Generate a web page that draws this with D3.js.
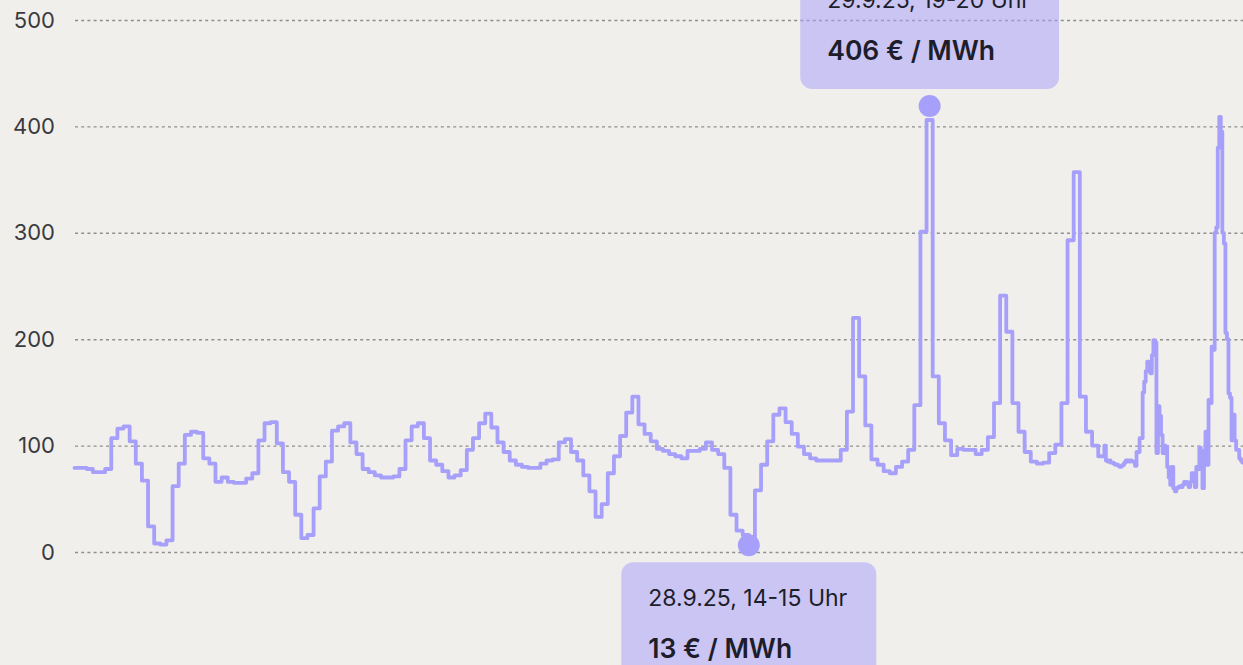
<!DOCTYPE html>
<html>
<head>
<meta charset="utf-8">
<script src="https://cdn.jsdelivr.net/npm/d3@7"></script>
<style>
  html, body { margin: 0; padding: 0; background: #f0efeb; overflow: hidden; }
  svg { display: block; font-family: Inter, "Noto Sans", sans-serif; }
</style>
</head>
<body>
<script>
// hourly prices (€/MWh), one array per day
const sep24 = [79, 79, 78, 75, 75, 78, 107, 116, 118, 104, 83, 67, 24, 8, 7, 11, 62, 83, 110, 113, 112, 88, 83, 66];
const sep25 = [70, 66, 65, 65, 69, 74, 105, 121, 122, 102, 75, 66, 35, 13, 16, 41, 71, 85, 114, 118, 121, 103, 92, 78];
const sep26 = [75, 72, 70, 70, 71, 78, 105, 118, 121, 107, 86, 82, 76, 70, 72, 77, 96, 107, 121, 130, 117, 103, 94, 86];
const sep27 = [82, 80, 79, 79, 83, 86, 87, 103, 106, 94, 86, 72, 57, 33, 45, 74, 90, 109, 131, 146, 120, 111, 104, 97];
const sep28 = [95, 92, 90, 88, 95, 95, 97, 103, 96, 92, 79, 35, 20, 16, 13, 58, 82, 104, 129, 135, 122, 111, 99, 92];
const sep29 = [88, 86, 86, 86, 86, 96, 132, 220, 165, 119, 87, 82, 76, 74, 80, 85, 96, 138, 301, 406, 165, 121, 105, 91];
const sep30 = [97, 96, 96, 92, 96, 108, 140, 241, 207, 140, 113, 94, 85, 83, 84, 93, 101, 140, 293, 357, 146, 113, 100, 90];
// from 1 Oct the day-ahead market trades quarter hours
const oct1 = [100, 86, 85, 86, 84, 84, 83, 82, 82, 81, 80, 81, 82, 84, 86, 86,
              85, 86, 85, 85, 81, 94, 94, 107, 107, 150, 160, 170, 179, 176, 168, 185,
              199, 197, 93, 137, 128, 110, 93, 100, 99, 80, 70, 63, 80, 60, 57, 60,
              61, 62, 61, 63, 66, 66, 64, 61, 66, 74, 72, 61, 80, 78, 98, 95,
              60, 95, 113, 82, 143, 140, 193, 190, 300, 305, 380, 409, 395, 300, 290, 206,
              200, 149, 145, 105, 129, 105, 96, 96, 88, 86, 84, 84];

const yTicks = [0, 100, 200, 300, 400, 500];

const maxNote = ["29.9.25, 19-20 Uhr", "406 € / MWh"];
const minNote = ["28.9.25, 14-15 Uhr", "13 € / MWh"];
const maxTime = new Date(Date.UTC(2025, 8, 29, 19));
const minTime = new Date(Date.UTC(2025, 8, 28, 14));

const W = 1243, H = 665;
const purple = "#a7a0fb";

const data = [];
[sep24, sep25, sep26, sep27, sep28, sep29, sep30].forEach((day, d) => {
  day.forEach((v, h) => data.push({ t: new Date(Date.UTC(2025, 8, 24 + d, h)), v: v }));
});
oct1.forEach((v, q) => data.push({ t: new Date(Date.UTC(2025, 9, 1, 0, 15 * q)), v: v }));
// close the last step
const last = data[data.length - 1];
data.push({ t: new Date(last.t.getTime() + 15 * 60000), v: last.v });

const svg = d3.select("body").append("svg")
  .attr("width", W)
  .attr("height", H);

const x = d3.scaleUtc()
  .domain([new Date(Date.UTC(2025, 8, 24)), new Date(Date.UTC(2025, 9, 2))])
  .range([74.5, 74.5 + 192 * 6.13]);

const y = d3.scaleLinear()
  .domain([0, 500])
  .range([552, 20]);

// grid + labels
const yAxis = svg.append("g")
  .attr("transform", "translate(75,0)")
  .call(d3.axisLeft(y).tickValues(yTicks).tickSize(-(W - 75)).tickPadding(20));
yAxis.select(".domain").remove();
yAxis.selectAll(".tick line")
  .attr("stroke", "#8f8f8f")
  .attr("stroke-width", 1.4)
  .attr("stroke-dasharray", "3 3.2");
yAxis.selectAll(".tick text")
  .attr("fill", "#3a3a3e")
  .attr("font-size", 22)
  .attr("font-family", "Inter, sans-serif");

const line = d3.line()
  .x(d => x(d.t))
  .y(d => y(d.v))
  .curve(d3.curveStepAfter);

svg.append("path")
  .datum(data)
  .attr("d", line)
  .attr("fill", "none")
  .attr("stroke", purple)
  .attr("stroke-width", 3.8)
  .attr("stroke-linejoin", "round")
  .attr("stroke-linecap", "round");

function note(lines, cx, dotY, above) {
  const g = svg.append("g");
  svg.append("circle")
    .attr("cx", cx).attr("cy", dotY).attr("r", 11)
    .attr("fill", purple);

  const boxH = 125;
  const top = above ? dotY - 17 - boxH : dotY + 17;
  const rect = g.append("rect")
    .attr("y", top).attr("height", boxH)
    .attr("rx", 12)
    .attr("fill", purple)
    .attr("fill-opacity", 0.52);

  const t1 = g.append("text")
    .attr("y", top + 44)
    .attr("font-size", 23)
    .attr("fill", "#1e1d2b")
    .text(lines[0]);
  const t2 = g.append("text")
    .attr("y", top + 96)
    .attr("font-size", 26.5)
    .attr("font-weight", 600)
    .attr("fill", "#1e1d2b")
    .text(lines[1]);

  const tw = Math.max(t1.node().getComputedTextLength(), t2.node().getComputedTextLength());
  const bw = tw + 56;
  const left = cx - bw / 2;
  rect.attr("x", left).attr("width", bw);
  t1.attr("x", left + 27);
  t2.attr("x", left + 27);
}

note(maxNote, x(new Date(maxTime.getTime() + 30 * 60000)), y(406) - 14, true);
note(minNote, x(minTime), y(13) + 7, false);
</script>
</body>
</html>
